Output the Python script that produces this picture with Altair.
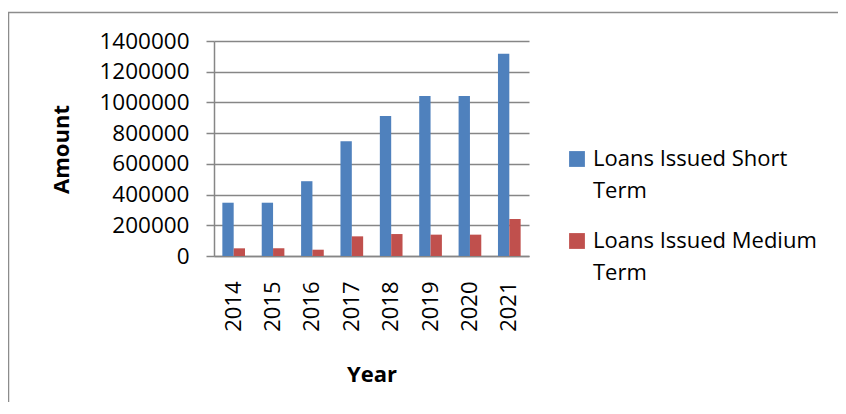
import altair as alt
import pandas as pd

years = ["2014", "2015", "2016", "2017", "2018", "2019", "2020", "2021"]
short_term = [347000, 347000, 487000, 748000, 912000, 1042000, 1042000, 1317000]
medium_term = [50000, 50000, 41000, 128000, 143000, 139000, 139000, 241000]
series = ["Loans Issued Short Term", "Loans Issued Medium Term"]
colors = ["#4F81BD", "#C0504D"]
y_ticks = [0, 200000, 400000, 600000, 800000, 1000000, 1200000, 1400000]

rows = []
for i, yr in enumerate(years):
    rows.append({"Year": yr, "Series": series[0], "Amount": short_term[i]})
    rows.append({"Year": yr, "Series": series[1], "Amount": medium_term[i]})
df = pd.DataFrame(rows)

FONT = "Open Sans"

frame = alt.Chart(alt.Data(values=[{"f": 1}])).mark_rect(
    fill="transparent", stroke="#8c8c8c", strokeWidth=1.5
).encode(
    x=alt.value(-205.5), x2=alt.value(900), y=alt.value(-28.5), y2=alt.value(600)
)

bars = alt.Chart(df).mark_bar().encode(
    x=alt.X("Year:N", sort=years,
            scale=alt.Scale(paddingInner=0.424, paddingOuter=0.212),
            axis=alt.Axis(title="Year", labelAngle=-90, labelAlign="right",
                          labelBaseline="middle", ticks=False, labelPadding=25,
                          labelFontSize=22, labelFont=FONT, labelColor="black",
                          domainColor="#868686", domainWidth=1.5,
                          titleFont=FONT, titleFontSize=22, titleFontWeight="bold",
                          titleColor="black", titleY=118, titleBaseline="middle",
                          grid=False)),
    xOffset=alt.XOffset("Series:N", sort=series,
                        scale=alt.Scale(paddingInner=0, paddingOuter=0)),
    y=alt.Y("Amount:Q", scale=alt.Scale(domain=[0, 1400000], nice=False),
            axis=alt.Axis(title="Amount", values=y_ticks, format="d",
                          labelFontSize=22.5, labelFont=FONT, labelColor="black",
                          labelPadding=17, tickSize=8, tickColor="#868686",
                          tickWidth=1.5, gridColor="#868686", gridWidth=1.5,
                          domainColor="#868686", domainWidth=1.5,
                          titleFont=FONT, titleFontSize=22, titleFontWeight="bold",
                          titleColor="black", titleX=-153, titleY=108,
                          titleAlign="center", titleBaseline="middle",
                          titleAngle=-90)),
    color=alt.Color("Series:N", sort=series,
                    scale=alt.Scale(domain=series, range=colors),
                    legend=alt.Legend(title=None, orient="none", legendX=352,
                                      legendY=107, symbolType="square",
                                      symbolSize=250, symbolStrokeWidth=0,
                                      labelFont=FONT, labelFontSize=22,
                                      labelColor="black", labelOffset=5,
                                      labelLimit=400, rowPadding=28, padding=0,
                                      labelExpr="datum.label == 'Loans Issued Short Term' ? ['Loans Issued Short', 'Term'] : ['Loans Issued Medium', 'Term']")),
)

chart = alt.layer(frame, bars).properties(
    width=315, height=215,
    autosize=alt.AutoSizeParams(type="none"),
    padding={"left": 206, "top": 33, "right": 309, "bottom": 146},
).configure(
    style={"guide-label": {"lineHeight": 32}}
).configure_view(stroke="transparent")

chart.save("out.html", embed_options={"renderer": "svg", "actions": False})
